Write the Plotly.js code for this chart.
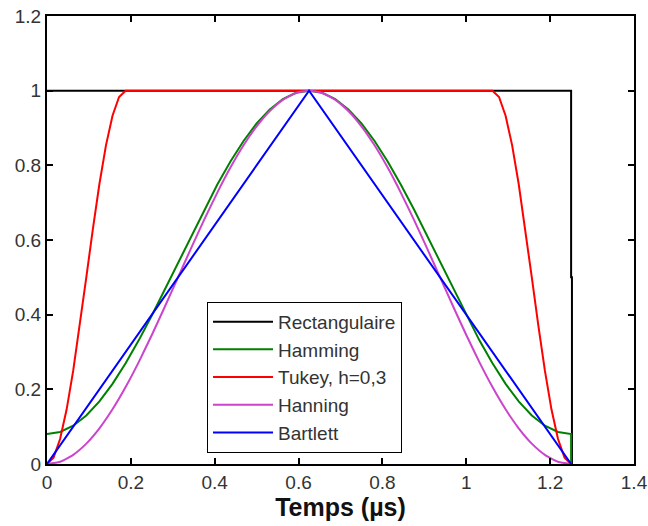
<!DOCTYPE html>
<html><head><meta charset="utf-8">
<script src="https://cdn.plot.ly/plotly-3.0.1.min.js"></script>
<style>html,body{margin:0;padding:0;background:#fff}#chart{width:648px;height:526px}</style>
</head><body><div id="chart"></div>
<script>
// Time samples (µs)
const tWin = [0,0.03125,0.0625,0.09375,0.125,0.15625,0.1875,0.21875,0.25,0.28125,0.3125,0.34375,0.375,0.40625,0.4375,0.46875,0.5,0.53125,0.5625,0.59375,0.625,0.65625,0.6875,0.71875,0.75,0.78125,0.8125,0.84375,0.875,0.90625,0.9375,0.96875,1.0,1.03125,1.0625,1.09375,1.125,1.15625,1.1875,1.21875,1.25];
const hammingY = [0.08,0.0857,0.1025,0.1301,0.1679,0.2147,0.2696,0.3312,0.3979,0.4680,0.54,0.6120,0.6822,0.7488,0.8104,0.8653,0.9122,0.9499,0.9775,0.9943,1.0,0.9943,0.9775,0.9499,0.9122,0.8653,0.8104,0.7488,0.6822,0.6120,0.54,0.4680,0.3979,0.3312,0.2696,0.2147,0.1679,0.1301,0.1025,0.0857,0.08];
const hanningY = [0,0.0062,0.0245,0.0545,0.0955,0.1465,0.2061,0.2730,0.3455,0.4218,0.5,0.5782,0.6545,0.7270,0.7939,0.8536,0.9045,0.9455,0.9755,0.9938,1.0,0.9938,0.9755,0.9455,0.9045,0.8536,0.7939,0.7270,0.6545,0.5782,0.5,0.4218,0.3455,0.2730,0.2061,0.1465,0.0955,0.0545,0.0245,0.0062,0];
const rectX = [0,1.25,1.25,1.252,1.252];
const rectY = [1,1,0.5,0.5,0];
const tukeyX = [0,0.015625,0.03125,0.046875,0.0625,0.078125,0.09375,0.109375,0.125,0.140625,0.15625,0.171875,0.1875,
  1.0625,1.078125,1.09375,1.109375,1.125,1.140625,1.15625,1.171875,1.1875,1.203125,1.21875,1.234375,1.25];
const tukeyY = [0,0.0170,0.0670,0.1465,0.25,0.3706,0.5,0.6294,0.75,0.8536,0.9330,0.9830,1,
  1,0.9830,0.9330,0.8536,0.75,0.6294,0.5,0.3706,0.25,0.1465,0.0670,0.0170,0];
const bartlettX = [0,0.625,1.25];
const bartlettY = [0,1,0];
const hammingEndX = [1.25];
const hammingEndY = [0];

const names = ["Rectangulaire","Hamming","Tukey, h=0,3","Hanning","Bartlett"];
const colors = ["#000000","#008000","#ff0000","#cc44cc","#0000ff"];
const xTicks = [0,0.2,0.4,0.6,0.8,1,1.2,1.4];
const xTickText = ["0","0.2","0.4","0.6","0.8","1","1.2","1.4"];
const yTicks = [0,0.2,0.4,0.6,0.8,1,1.2];
const yTickText = ["0","0.2","0.4","0.6","0.8","1","1.2"];
const lw = 2;

const traces = [
  {x: rectX, y: rectY, name: names[0], mode:'lines', line:{color:colors[0], width:lw}},
  {x: tWin.concat(hammingEndX), y: hammingY.concat(hammingEndY), name: names[1], mode:'lines', line:{color:colors[1], width:lw}},
  {x: tukeyX, y: tukeyY, name: names[2], mode:'lines', line:{color:colors[2], width:lw}},
  {x: tWin, y: hanningY, name: names[3], mode:'lines', line:{color:colors[3], width:lw, shape:'spline', smoothing:0.5}},
  {x: bartlettX, y: bartlettY, name: names[4], mode:'lines', line:{color:colors[4], width:lw}}
];

const tickFont = {family:'Liberation Sans, Arial, sans-serif', size:19, color:'#333'};
const axisCommon = {
  showgrid:false, zeroline:false, showline:true, linecolor:'#000', linewidth:2,
  mirror:'allticks', ticks:'inside', ticklen:6, tickwidth:2, tickcolor:'#000',
  tickfont:tickFont, tickmode:'array'
};

const layout = {
  width:648, height:526,
  margin:{l:47, r:14, t:16, b:62},
  paper_bgcolor:'#fff', plot_bgcolor:'#fff',
  showlegend:true,
  legend:{x:0.2726, y:0.362, xanchor:'left', yanchor:'top', bgcolor:'#fff', bordercolor:'#000', borderwidth:1,
    font:{family:'Liberation Sans, Arial, sans-serif', size:19, color:'#333'}, itemwidth:60, tracegroupgap:0},
  xaxis: Object.assign({}, axisCommon, {range:[0,1.4], tickvals:xTicks, ticktext:xTickText,
    title:{text:'<b>Temps (µs)</b>', font:{family:'Liberation Sans, Arial, sans-serif', size:25, color:'#111'}, standoff:5}}),
  yaxis: Object.assign({}, axisCommon, {range:[0,1.2], tickvals:yTicks, ticktext:yTickText})
};

Plotly.newPlot('chart', traces, layout, {displayModeBar:false, staticPlot:true});
</script>
</body></html>
